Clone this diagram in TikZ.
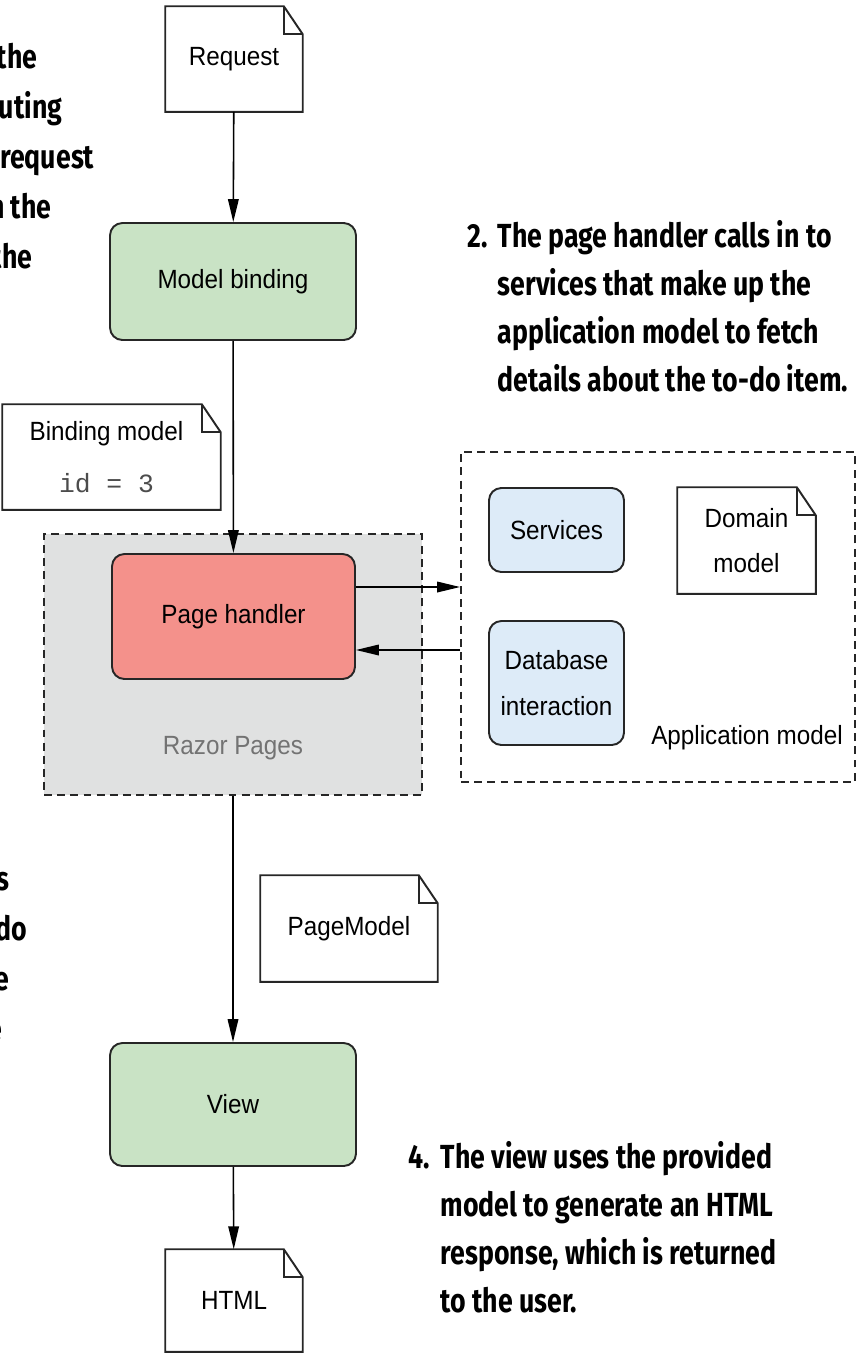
\documentclass[tikz,border=0pt]{standalone}
\usepackage{fontspec}
\usepackage{xcolor}
\usepackage{tikz}
\usetikzlibrary{arrows.meta,positioning}
\newfontfamily\boxfont{Liberation Sans}[FakeStretch=0.92]
\newfontfamily\notefont{Fira Sans}[FakeStretch=0.8]
\setmonofont{Liberation Mono}
\definecolor{mbgreen}{HTML}{C9E3C5}
\definecolor{phred}{HTML}{F4918B}
\definecolor{rpgray}{HTML}{E0E1E1}
\definecolor{svblue}{HTML}{DDEBF8}
\tikzstyle{docline}=[line width=1.1pt, draw=black!85, line join=miter]
% page with a folded corner
\newcommand{\foldframe}[1]{%
  \draw[docline] (#1.north west) -- ([xshift=-10.8pt]#1.north east)
    -- ([yshift=-16pt]#1.north east) -- (#1.south east) -- (#1.south west) -- cycle;
  \draw[docline] ([xshift=-10.8pt]#1.north east) |- ([yshift=-16pt]#1.north east);}

\begin{document}
\begin{tikzpicture}[x=0.02cm, y=-0.02cm,
  font=\boxfont\fontsize{15}{26}\selectfont,
  box/.style={draw=black!85, line width=1.1pt, rounded corners=7pt, align=center, inner sep=0pt},
  doc/.style={align=center, inner sep=0pt},
  grp/.style={draw=black!85, line width=1.1pt, dash pattern=on 4.5pt off 3pt},
  note/.style={font=\notefont\bfseries\fontsize{19}{27.3}\selectfont, align=left, inner sep=0pt},
  >={Triangle[length=13pt,width=6pt]}, line width=0.9pt]
\useasboundingbox (0,0) rectangle (857,1353);
\clip (0,0) rectangle (857,1353);

% groups
\node[grp, fill=rpgray, minimum width=7.56cm, minimum height=5.22cm] (rp) at (233,664.5) {};
\node[grp, minimum width=7.88cm, minimum height=6.6cm] (app) at (658,617) {};
\node[text=black!55] (rptxt) at (233,748) {Razor Pages};
\node (apptxt) at (747,738) {Application model};

% main column
\node[doc, minimum width=2.72cm, minimum height=2.08cm] (req) at (234,59) {Request};
\foldframe{req}
\node[box, fill=mbgreen, minimum width=4.92cm, minimum height=2.34cm] (mb) at (233,281.5) {Model binding};
\node[box, fill=phred, minimum width=4.86cm, minimum height=2.5cm] (ph) at (233.5,616.5) {Page handler};
\node[box, fill=mbgreen, minimum width=4.92cm, minimum height=2.46cm] (view) at (233,1104.5) {View};
\node[doc, minimum width=2.72cm, minimum height=2.02cm] (html) at (234,1300.5) {HTML};
\foldframe{html}

% models
\node[doc, minimum width=4.34cm, minimum height=2.08cm] (bm) at (111.5,457)
  {Binding model\hspace*{0.2cm}\\[4pt]{\ttfamily\color{black!70}id = 3}\hspace*{0.2cm}};
\foldframe{bm}
\node[doc, minimum width=3.52cm, minimum height=2.1cm] (pm) at (349,928.5) {PageModel};
\foldframe{pm}

% application model
\node[box, fill=svblue, minimum width=2.7cm, minimum height=1.68cm] (svc) at (556.5,530) {Services};
\node[box, fill=svblue, minimum width=2.7cm, minimum height=2.48cm] (db) at (556.5,683) {Database\\interaction};
\node[doc, minimum width=2.74cm, minimum height=2.1cm] (dm) at (746.5,540.5) {Domain\\model};
\foldframe{dm}

% flow
\draw[->] (req) -- (mb);
\draw[->] (mb) -- (ph);
\draw[->] (rp) -- (view);
\draw[->] (view) -- (html);
\coordinate (out) at ([yshift=0.59cm]ph.east);
\coordinate (back) at ([yshift=-0.67cm]ph.east);
\draw[->] (out) -- (out -| app.west);
\draw[->] (back -| app.west) -- (back);

% notes (base = last line)
\node[note, anchor=base west] (n2) at (467,247) {2.};
\node[note, anchor=base west] (n2txt) at (497,391)
  {The page handler calls in to\\services that make up the\\application model to fetch\\details about the to-do item.};
\node[note, anchor=base west] (n4) at (408,1168) {4.};
\node[note, anchor=base west] (n4txt) at (440,1312)
  {The view uses the provided\\model to generate an HTML\\response, which is returned\\to the user.};

% cut off notes on the left
\node[note, anchor=base east] (l1) at (38,68) {the};
\node[note, anchor=base east] (l2) at (63,118) {uting};
\node[note, anchor=base east] (l3) at (95,168) {request};
\node[note, anchor=base east] (l4) at (52,218) {n the};
\node[note, anchor=base east] (l5) at (33,268) {the};
\node[note, anchor=base east] (l6) at (10,890) {s};
\node[note, anchor=base east] (l7) at (28,940) {do};
\node[note, anchor=base east] (l8) at (10,990) {e};
\node[note, anchor=base east] (l9) at (3,1040) {e};
\end{tikzpicture}
\end{document}
